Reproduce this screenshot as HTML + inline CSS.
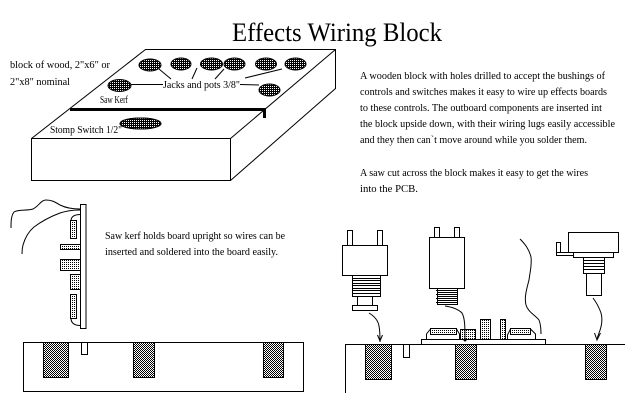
<!DOCTYPE html>
<html><head><meta charset="utf-8"><style>
html,body{margin:0;padding:0;background:#fff;}
svg{display:block;}
text{font-family:"Liberation Serif",serif;fill:#000;}
</style></head><body>
<svg width="636" height="405" viewBox="0 0 636 405" xmlns="http://www.w3.org/2000/svg">
<defs>
<pattern id="dk" width="2" height="2" patternUnits="userSpaceOnUse"><rect width="2" height="2" fill="#000"/><rect width="1" height="1" fill="#fff"/></pattern>
<pattern id="dt" width="2" height="2" patternUnits="userSpaceOnUse"><rect width="2" height="2" fill="#fff"/><rect width="1" height="1" fill="#000"/></pattern>
<pattern id="ck" width="2" height="2" patternUnits="userSpaceOnUse"><rect width="2" height="2" fill="#fff"/><rect width="1" height="1" fill="#000"/><rect x="1" y="1" width="1" height="1" fill="#000"/></pattern>
</defs>
<rect width="636" height="405" fill="#fff"/>

<!-- Title -->
<text x="232" y="41" font-size="26" textLength="210" lengthAdjust="spacingAndGlyphs">Effects Wiring Block</text>

<!-- Top block -->
<g fill="none" stroke="#000" stroke-width="1">
<path d="M31.5,138.5 L145.5,49.5 L335.5,49.5 L335.5,88.5 L230.5,180.5 L31.5,180.5 Z"/>
<path d="M31.5,138.5 L230.5,138.5 L335.5,49.5 M230.5,138.5 L230.5,180.5"/>
</g>
<rect x="70" y="108" width="196" height="3" fill="#000"/>
<rect x="263" y="108" width="3" height="10" fill="#000"/>

<g fill="url(#dk)" stroke="#000" stroke-width="1">
<ellipse cx="150" cy="65" rx="11" ry="6"/>
<ellipse cx="181" cy="64" rx="10" ry="6"/>
<ellipse cx="211.5" cy="64" rx="11" ry="6"/>
<ellipse cx="234.5" cy="64" rx="10.5" ry="6"/>
<ellipse cx="266" cy="64" rx="10.5" ry="6"/>
<ellipse cx="295.5" cy="64" rx="10.5" ry="6"/>
<ellipse cx="119.5" cy="85.5" rx="11.5" ry="6"/>
<ellipse cx="269.5" cy="90" rx="10.5" ry="6"/>
<ellipse cx="140.5" cy="123.5" rx="20.5" ry="5.5"/>
</g>
<g fill="none" stroke="#000" stroke-width="1">
<path d="M131,84.5 L163,84.5"/>
<path d="M240,84.5 L259,85"/>
<path d="M159,69 L171,79"/>
<path d="M197,68 L192,79"/>
<path d="M224,69 L215,79"/>
<path d="M282,69 L245,78"/>
</g>

<text x="10" y="68" font-size="10" textLength="100" lengthAdjust="spacingAndGlyphs">block of wood, 2"x6" or</text>
<text x="10" y="85" font-size="10" textLength="60" lengthAdjust="spacingAndGlyphs">2"x8" nominal</text>
<text x="163" y="88" font-size="10" textLength="77" lengthAdjust="spacingAndGlyphs">Jacks and pots 3/8"</text>
<text x="100" y="103" font-size="10" textLength="28" lengthAdjust="spacingAndGlyphs">Saw Kerf</text>
<text x="50" y="133" font-size="10" textLength="72" lengthAdjust="spacingAndGlyphs">Stomp Switch 1/2"</text>
<ellipse cx="140.5" cy="123.5" rx="20.5" ry="5.5" fill="url(#dk)" stroke="#000" stroke-width="1"/>

<!-- Right paragraph -->
<g font-size="10">
<text x="360" y="79" textLength="245" lengthAdjust="spacingAndGlyphs">A wooden block with holes drilled to accept the bushings of</text>
<text x="360" y="95" textLength="247" lengthAdjust="spacingAndGlyphs">controls and switches makes it easy to wire up effects boards</text>
<text x="360" y="111" textLength="242" lengthAdjust="spacingAndGlyphs">to these controls. The outboard components are inserted int</text>
<text x="360" y="127" textLength="255" lengthAdjust="spacingAndGlyphs">the block upside down, with their wiring lugs easily accessible</text>
<text x="360" y="143" textLength="227" lengthAdjust="spacingAndGlyphs">and they then can`t move around while you solder them.</text>
<text x="360" y="176" textLength="228" lengthAdjust="spacingAndGlyphs">A saw cut across the block makes it easy to get the wires</text>
<text x="360" y="192" textLength="58" lengthAdjust="spacingAndGlyphs">into the PCB.</text>
</g>

<!-- Bottom left: board upright -->
<g fill="none" stroke="#000" stroke-width="1">
<path d="M80,209 C72,209 66,208 60,205 C55,202 52,200 46,200 C41,200 39,206 33,209 C27,211 18,209 14,212 C11,216 11,222 11,228"/>
<path d="M80,210 C72,210 66,211 60,213 C52,216 42,221 34,227 C28,232 25,238 23,245 C22,249 22,252 22,254"/>
<path d="M71,221 Q71,214.5 80.5,214.5"/>
<path d="M71,318 Q71,325.5 80.5,325.5"/>
</g>
<rect x="80.5" y="204.5" width="5.5" height="124" fill="#fff" stroke="#000"/>
<g stroke="#000" stroke-width="1" fill="url(#dt)">
<rect x="70.5" y="220.5" width="6" height="18"/>
<rect x="60.5" y="244.5" width="20" height="5"/>
<rect x="60.5" y="259.5" width="20" height="11"/>
<rect x="70.5" y="274.5" width="10" height="15"/>
<rect x="70.5" y="294.5" width="6" height="24"/>
</g>

<g font-size="10">
<text x="105" y="239" textLength="180" lengthAdjust="spacingAndGlyphs">Saw kerf holds board upright so wires can be</text>
<text x="105" y="255" textLength="173" lengthAdjust="spacingAndGlyphs">inserted  and soldered into the board easily.</text>
</g>

<rect x="23.5" y="342.5" width="280" height="49" fill="#fff" stroke="#000"/>
<g fill="url(#ck)" stroke="#000" stroke-width="1">
<rect x="43.5" y="342.5" width="25" height="35"/>
<rect x="133.5" y="342.5" width="21" height="35"/>
<rect x="263.5" y="342.5" width="20" height="35"/>
</g>
<rect x="81.5" y="342.5" width="6" height="12" fill="#fff" stroke="#000"/>

<!-- Bottom right -->
<g fill="none" stroke="#000" stroke-width="1">
<path d="M345.5,393 L345.5,344.5 L625,344.5"/>
</g>
<g fill="url(#ck)" stroke="#000" stroke-width="1">
<rect x="365.5" y="344.5" width="26" height="35"/>
<rect x="455.5" y="344.5" width="21" height="35"/>
<rect x="585.5" y="344.5" width="21" height="35"/>
</g>
<rect x="403.5" y="344.5" width="6" height="13" fill="#fff" stroke="#000"/>

<!-- PCB on block -->
<rect x="421.5" y="339.5" width="124" height="5" fill="#fff" stroke="#000"/>
<g fill="none" stroke="#000" stroke-width="1">
<path d="M426.5,339.5 L426.5,334 L430.5,329"/>
<path d="M456.5,329 L459.5,334 L459.5,339.5"/>
<path d="M507.5,339.5 L507.5,335 L510.5,329"/>
<path d="M530.5,329 L535.5,334 L535.5,339.5"/>
</g>
<g fill="url(#dt)" stroke="#000" stroke-width="1">
<rect x="430.5" y="328.5" width="26" height="6"/>
<rect x="460.5" y="329.5" width="15" height="10"/>
<rect x="480.5" y="319.5" width="10" height="20"/>
<rect x="500.5" y="319.5" width="5" height="20"/>
<rect x="510.5" y="328.5" width="20" height="6"/>
</g>

<!-- Component 1 -->
<g fill="#fff" stroke="#000" stroke-width="1">
<rect x="347.5" y="230.5" width="5" height="15"/>
<rect x="377.5" y="230.5" width="5" height="15"/>
<rect x="342.5" y="245.5" width="45" height="30"/>
<rect x="352.5" y="275.5" width="28" height="21"/>
<rect x="357.5" y="296.5" width="15" height="9"/>
<rect x="352.5" y="305.5" width="25" height="5"/>
</g>
<g stroke="#000" stroke-width="1">
<path d="M353,278.5 H380 M353,280.5 H380 M353,283.5 H380 M353,285.5 H380 M353,288.5 H380 M353,290.5 H380 M353,293.5 H380"/>
</g>

<!-- Component 2 -->
<g fill="#fff" stroke="#000" stroke-width="1">
<rect x="434.5" y="227.5" width="5" height="10"/>
<rect x="454.5" y="227.5" width="5" height="10"/>
<rect x="429.5" y="237.5" width="35" height="51"/>
<rect x="437.5" y="288.5" width="20" height="16"/>
</g>
<g stroke="#000" stroke-width="1">
<path d="M436,290.5 H457 M438,292.5 H457 M436,294.5 H457 M438,296.5 H457 M436,298.5 H457 M438,300.5 H457 M436,302.5 H457"/>
</g>

<!-- Component 3 (pot) -->
<g fill="#fff" stroke="#000" stroke-width="1">
<rect x="568.5" y="232.5" width="50" height="20"/>
<rect x="573.5" y="252.5" width="40" height="5"/>
<rect x="556.5" y="242.5" width="4" height="13"/>
<rect x="556.5" y="252.5" width="17" height="3"/>
<rect x="583.5" y="257.5" width="21" height="16"/>
<rect x="586.5" y="273.5" width="15" height="22"/>
</g>
<g stroke="#000" stroke-width="1">
<path d="M584,260.5 H604 M584,263.5 H604 M584,266.5 H604 M584,269.5 H604"/>
</g>

<!-- wires / arrows -->
<g fill="none" stroke="#000" stroke-width="1">
<path d="M369,313 C374,316 378,320 379,326 C380,331 380,336 380,342"/>
<path d="M377.5,335 L380,341 L382.5,335"/>
<path d="M445,306 C452,307 458,309 462,313 C465,318 465,328 465,340"/>
<path d="M520,239 C525,244 529,249 531,257 C532,265 530,272 529,280 C527,288 524,297 526,305 C528,312 535,315 539,320 C541,325 541,330 541,334"/>
<path d="M593,298 C596,302 599,307 601,313 C603,320 601,328 599,333 C598,336 597,338 597,340"/>
<path d="M594.5,333 L597,340 L600.5,333"/>
</g>
<circle cx="465" cy="340" r="1.5" fill="#000"/>
</svg>
</body></html>
